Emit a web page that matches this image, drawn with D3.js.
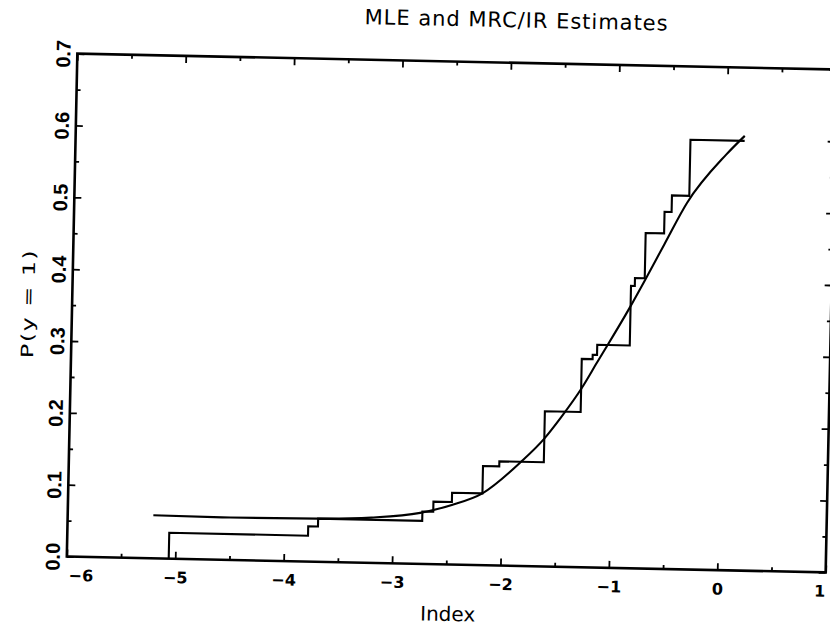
<!DOCTYPE html>
<html>
<head>
<meta charset="utf-8">
<script src="https://cdn.jsdelivr.net/npm/d3@7"></script>
<style>
  html, body { margin: 0; padding: 0; background: #fff; }
  svg { display: block; }
  text { font-family: "Liberation Sans", Arial, sans-serif; fill: #000; }
  text.wide { font-family: "DejaVu Sans", "Liberation Sans", sans-serif; }
</style>
</head>
<body>
<svg id="chart" width="830" height="628"></svg>
<script>
// ---- data ----
const titleText = "MLE and MRC/IR Estimates";
const xLabelText = "Index";
const yLabelText = "P(y = 1)";

const xMajorTicks = [-6, -5, -4, -3, -2, -1, 0, 1];
const xTickLabels = ["\u22126", "\u22125", "\u22124", "\u22123", "\u22122", "\u22121", "0", "1"];
const xMinorTicks = [-5.5, -4.5, -3.5, -2.5, -1.5, -0.5, 0.5];
const yMajorTicks = [0, 0.1, 0.2, 0.3, 0.4, 0.5, 0.6, 0.7];
const yTickLabels = ["0.0", "0.1", "0.2", "0.3", "0.4", "0.5", "0.6", "0.7"];
const yMinorTicks = [0.05, 0.15, 0.25, 0.35, 0.45, 0.55, 0.65];

// MRC/IR step estimate (step starts at each x)
const stepX = [-5.06, -5.06, -3.78, -3.69, -2.73, -2.63, -2.46, -2.18, -2.03, -1.62, -1.29, -1.19, -1.15, -0.85, -0.815, -0.725, -0.555, -0.49, -0.33, 0.17];
const stepY = [0.000, 0.036, 0.049, 0.060, 0.073, 0.087, 0.100, 0.138, 0.145, 0.216, 0.290, 0.296, 0.310, 0.393, 0.404, 0.467, 0.497, 0.520, 0.598, 0.598];

// MLE smooth estimate
const mleX = [-5.21, -4.5, -3.7, -3.2, -2.75, -2.46, -2.18, -1.83, -1.62, -1.47, -1.29, -1.15, -0.86, -0.72, -0.55, -0.35, 0.0, 0.17];
const mleY = [0.060, 0.059, 0.060, 0.063, 0.071, 0.083, 0.100, 0.145, 0.178, 0.208, 0.248, 0.285, 0.362, 0.402, 0.452, 0.510, 0.578, 0.605];

// ---- layout ----
const plotLeft = 72, plotTop = 61.5, plotW = 759, plotH = 503;
const tilt = 1.2, cx = 451, cy = 313;

const svg = d3.select("#chart");
svg.append("rect").attr("width", 830).attr("height", 628).attr("fill", "#fff");
const g = svg.append("g").attr("transform", `rotate(${tilt},${cx},${cy})`);

const x = d3.scaleLinear().domain([-6, 1]).range([plotLeft, plotLeft + plotW]);
const y = d3.scaleLinear().domain([0, 0.7]).range([plotTop + plotH, plotTop]);

function styleAxis(sel) {
  sel.select(".domain").remove();
  sel.selectAll(".tick line").attr("stroke", "#000").attr("stroke-width", 1.8);
}

// bottom axis
const gb = g.append("g").attr("transform", `translate(0,${plotTop + plotH})`);
gb.call(d3.axisBottom(x).tickValues(xMajorTicks).tickSize(-7).tickPadding(13)
  .tickFormat((d, i) => xTickLabels[i]));
styleAxis(gb);
gb.selectAll(".tick text")
  .attr("class", "wide")
  .attr("font-family", null)
  .attr("font-size", 16).attr("font-weight", "bold")
  .attr("dx", (d, i) => i === 0 ? 14 : (i === xMajorTicks.length - 1 ? -6 : 0));
const gbm = g.append("g").attr("transform", `translate(0,${plotTop + plotH})`);
gbm.call(d3.axisBottom(x).tickValues(xMinorTicks).tickSize(-4).tickFormat(""));
styleAxis(gbm);

// top axis
const gt = g.append("g").attr("transform", `translate(0,${plotTop})`);
gt.call(d3.axisTop(x).tickValues(xMajorTicks).tickSize(-7).tickFormat(""));
styleAxis(gt);
const gtm = g.append("g").attr("transform", `translate(0,${plotTop})`);
gtm.call(d3.axisTop(x).tickValues(xMinorTicks).tickSize(-4).tickFormat(""));
styleAxis(gtm);

// left axis
const gl = g.append("g").attr("transform", `translate(${plotLeft},0)`);
gl.call(d3.axisLeft(y).tickValues(yMajorTicks).tickSize(-7)
  .tickFormat((d, i) => yTickLabels[i]));
styleAxis(gl);
gl.selectAll(".tick text")
  .attr("font-size", 20).attr("font-weight", "bold")
  .attr("transform", "rotate(-90)")
  .attr("text-anchor", "middle")
  .attr("x", 0).attr("y", -7).attr("dy", 0);
const glm = g.append("g").attr("transform", `translate(${plotLeft},0)`);
glm.call(d3.axisLeft(y).tickValues(yMinorTicks).tickSize(-4).tickFormat(""));
styleAxis(glm);

// right axis
const gr = g.append("g").attr("transform", `translate(${plotLeft + plotW},0)`);
gr.call(d3.axisRight(y).tickValues(yMajorTicks).tickSize(-7).tickFormat(""));
styleAxis(gr);
const grm = g.append("g").attr("transform", `translate(${plotLeft + plotW},0)`);
grm.call(d3.axisRight(y).tickValues(yMinorTicks).tickSize(-4).tickFormat(""));
styleAxis(grm);

// frame
g.append("rect")
  .attr("x", x(-6)).attr("y", y(0.7))
  .attr("width", x(1) - x(-6)).attr("height", y(0) - y(0.7))
  .attr("fill", "none").attr("stroke", "#000").attr("stroke-width", 2.6);

// step function
const stepData = stepX.map((v, i) => [v, stepY[i]]);
g.append("path")
  .datum(stepData)
  .attr("fill", "none").attr("stroke", "#000").attr("stroke-width", 2.1)
  .attr("d", d3.line().x(d => x(d[0])).y(d => y(d[1])).curve(d3.curveStepAfter));

// MLE curve
const mleData = mleX.map((v, i) => [v, mleY[i]]);
g.append("path")
  .datum(mleData)
  .attr("fill", "none").attr("stroke", "#000").attr("stroke-width", 2.1)
  .attr("d", d3.line().x(d => x(d[0])).y(d => y(d[1])).curve(d3.curveMonotoneX));

// title
g.append("text")
  .attr("class", "wide")
  .attr("x", 510).attr("y", 26)
  .attr("text-anchor", "middle")
  .attr("font-size", 21)
  .attr("textLength", 303).attr("lengthAdjust", "spacing")
  .text(titleText);

// x label
g.append("text")
  .attr("class", "wide")
  .attr("x", 454).attr("y", 621)
  .attr("text-anchor", "middle")
  .attr("font-size", 20)
  .text(xLabelText);

// y label
g.append("text")
  .attr("class", "wide")
  .attr("transform", `translate(34,${plotTop + plotH / 2}) rotate(-90) scale(1.4,1)`)
  .attr("text-anchor", "middle")
  .attr("font-size", 17)
  .attr("textLength", 77).attr("lengthAdjust", "spacing")
  .text(yLabelText);
</script>
</body>
</html>
